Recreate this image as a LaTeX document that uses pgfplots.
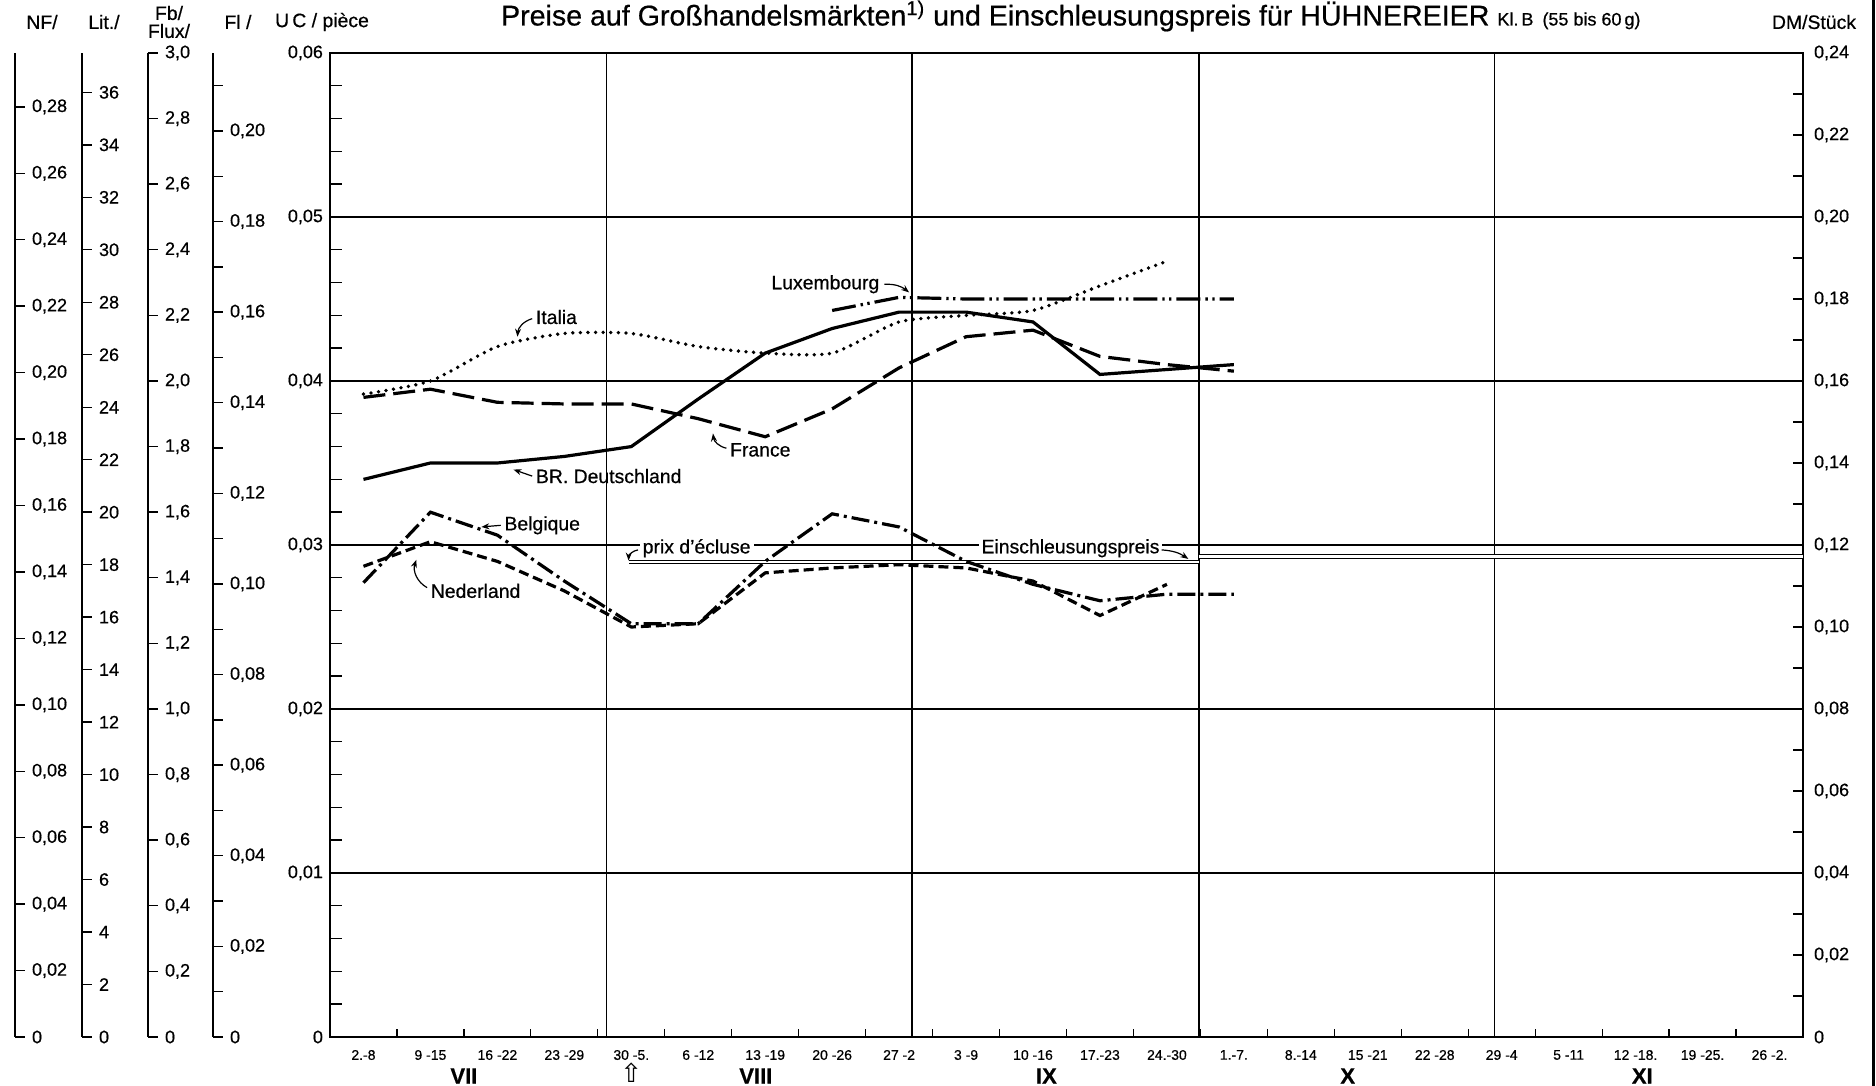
\documentclass[border=0pt]{standalone}
\usepackage{fontspec}
\setmainfont{Liberation Sans}[FakeBold=0.6]
\newfontfamily\djv{DejaVu Sans}
\usepackage{pgfplots}
\pgfplotsset{compat=1.18}
\usetikzlibrary{arrows.meta}

\newcommand{\tl}{\fontsize{9}{10}\selectfont}
\newcommand{\lab}{\fontsize{9.7}{11}\selectfont}

\pgfplotsset{
  every axis/.append style={scaled y ticks=false, scaled x ticks=false},
  aux/.style={scale only axis, width=1pt, height=492pt, anchor=south east,
    xmin=0, xmax=1, ymin=0,
    axis x line=none, axis y line=right,
    y axis line style={-, line width=0.9pt},
    ytick align=outside, major tick length=5pt, minor tick length=5pt,
    tick style={black, line width=0.7pt},
    yticklabel style={font=\tl}},
}

\begin{document}
\begin{tikzpicture}
\path[use as bounding box] (0,0) rectangle (938pt,543pt);

% ---- auxiliary currency axes ----
\begin{axis}[aux, at={(7.5pt,24.5pt)}, ymax=0.29622,
  ytick={0,0.02,0.04,0.06,0.08,0.10,0.12,0.14,0.16,0.18,0.20,0.22,0.24,0.26,0.28},
  yticklabels={0,{0,02},{0,04},{0,06},{0,08},{0,10},{0,12},{0,14},{0,16},{0,18},{0,20},{0,22},{0,24},{0,26},{0,28}}]
\end{axis}
\begin{axis}[aux, at={(41pt,24.5pt)}, ymax=37.5,
  ytick={0,2,4,6,8,10,12,14,16,18,20,22,24,26,28,30,32,34,36},
  yticklabels={0,2,4,6,8,10,12,14,16,18,20,22,24,26,28,30,32,34,36}]
\end{axis}
\begin{axis}[aux, at={(74pt,24.5pt)}, ymax=3.0,
  ytick={0,0.2,0.4,0.6,0.8,1.0,1.2,1.4,1.6,1.8,2.0,2.2,2.4,2.6,2.8,3.0},
  yticklabels={0,{0,2},{0,4},{0,6},{0,8},{1,0},{1,2},{1,4},{1,6},{1,8},{2,0},{2,2},{2,4},{2,6},{2,8},{3,0}}]
\end{axis}
\begin{axis}[aux, at={(106.5pt,24.5pt)}, ymax=0.2172,
  ytick={0,0.02,0.04,0.06,0.08,0.10,0.12,0.14,0.16,0.18,0.20},
  yticklabels={0,{0,02},{0,04},{0,06},{0,08},{0,10},{0,12},{0,14},{0,16},{0,18},{0,20}},
  minor ytick={0.01,0.03,0.05,0.07,0.09,0.11,0.13,0.15,0.17,0.19,0.21}]
\end{axis}

% ---- right DM axis ----
\begin{axis}[scale only axis, width=736.5pt, height=492pt, at={(165pt,24.5pt)}, anchor=south west,
  xmin=-0.5, xmax=21.5, ymin=0, ymax=0.24,
  axis x line=none, axis y line*=right, y axis line style={-, line width=0.9pt},
  ytick={0,0.02,0.04,0.06,0.08,0.10,0.12,0.14,0.16,0.18,0.20,0.22,0.24},
  yticklabels={0,{0,02},{0,04},{0,06},{0,08},{0,10},{0,12},{0,14},{0,16},{0,18},{0,20},{0,22},{0,24}},
  minor y tick num=1, tick align=inside, major tick length=5pt, minor tick length=5pt,
  tick style={black, line width=0.7pt},
  yticklabel style={font=\tl, xshift=2pt}]
\end{axis}

% ---- main axis ----
\begin{axis}[scale only axis, width=736.5pt, height=492pt, at={(165pt,24.5pt)}, anchor=south west,
  xmin=-0.5, xmax=21.5, ymin=0, ymax=0.06, clip=false,
  axis line style={line width=0.9pt},
  ytick={0,0.01,0.02,0.03,0.04,0.05,0.06},
  yticklabels={0,{0,01},{0,02},{0,03},{0,04},{0,05},{0,06}},
  minor y tick num=4, ytick pos=left, tick align=inside,
  major tick length=6pt, minor tick length=6pt,
  tick style={black, line width=0.7pt},
  ymajorgrids, major grid style={black, line width=0.6pt},
  yticklabel style={font=\tl},
  xtick={0,...,21}, xtick style={draw=none},
  xticklabels={2.-8, 9 -15, 16 -22, 23 -29, 30 -5., 6 -12, 13 -19, 20 -26, 27 -2, 3 -9, 10 -16, 17.-23, 24.-30, 1.-7., 8.-14, 15 -21, 22 -28, 29 -4, 5 -11, 12 -18., 19 -25., 26 -2.},
  xticklabel style={font=\fontsize{7}{8}\selectfont, yshift=-3pt}]

% small week ticks
\addplot[ycomb, black, line width=0.6pt] coordinates {
(-0.5,0.0005)(0.5,0.0005)(1.5,0.0005)(2.5,0.0005)(3.5,0.0005)(4.5,0.0005)(5.5,0.0005)(6.5,0.0005)(7.5,0.0005)(8.5,0.0005)(9.5,0.0005)(10.5,0.0005)(11.5,0.0005)(12.5,0.0005)(13.5,0.0005)(14.5,0.0005)(15.5,0.0005)(16.5,0.0005)(17.5,0.0005)(18.5,0.0005)(19.5,0.0005)(20.5,0.0005)};

% month separators
\draw[black, line width=0.7pt] (axis cs:3.63,0) -- (axis cs:3.63,0.06);
\draw[black, line width=0.7pt] (axis cs:8.19,0) -- (axis cs:8.19,0.06);
\draw[black, line width=0.7pt] (axis cs:12.48,0) -- (axis cs:12.48,0.06);
\draw[black, line width=0.7pt] (axis cs:16.89,0) -- (axis cs:16.89,0.06);

% sluice-gate price (double line)
\addplot[black, line width=0.45pt, double, double distance=1.2pt] coordinates {(3.97,0.02895)(12.48,0.02895)};
\addplot[black, line width=0.45pt, double, double distance=1.2pt] coordinates {(12.48,0.0293)(21.5,0.0293)};

% BR Deutschland
\addplot[black, line width=1.6pt] coordinates {
(0,0.0340)(1,0.0350)(2,0.0350)(3,0.0354)(4,0.0360)(5,0.0389)(6,0.0417)(7,0.0432)(8,0.0442)(9,0.0442)(10,0.0436)(11,0.0404)(12,0.0407)(13,0.0410)};
% France
\addplot[black, line width=1.6pt, dash pattern=on 11pt off 4pt] coordinates {
(0,0.0390)(1,0.0395)(2,0.0387)(3,0.0386)(4,0.0386)(5,0.0377)(6,0.0366)(7,0.0383)(8,0.0408)(9,0.0427)(10,0.0431)(11,0.0415)(12,0.0410)(13,0.0406)};
% Italia
\addplot[black, line width=1.9pt, line cap=round, dash pattern=on 0pt off 3.8pt, smooth, tension=0.4] coordinates {
(0,0.0392)(1,0.0400)(2,0.0421)(3,0.0429)(4,0.0429)(5,0.0421)(6,0.0417)(7,0.0417)(8,0.0436)(9,0.0440)(10,0.0443)(11,0.0458)(12,0.0473)};
% Luxembourg
\addplot[black, line width=1.6pt, dash pattern=on 12pt off 2.5pt on 1.2pt off 2.2pt on 1.2pt off 2.5pt] coordinates {
(7,0.0443)(8,0.0451)(9,0.0450)(10,0.0450)(11,0.0450)(12,0.0450)(13,0.0450)};
% Belgique
\addplot[black, line width=1.6pt, dash pattern=on 9pt off 2.5pt on 1.5pt off 2.5pt] coordinates {
(0,0.0277)(1,0.0320)(2,0.0306)(3,0.0278)(4,0.0252)(5,0.0252)(6,0.0290)(7,0.0319)(8,0.0311)(9,0.0290)(10,0.0276)(11,0.0266)(12,0.0270)(13,0.0270)};
% Nederland
\addplot[black, line width=1.6pt, dash pattern=on 5pt off 2.5pt] coordinates {
(0,0.0287)(1,0.0302)(2,0.0290)(3,0.0272)(4,0.0250)(5,0.0252)(6,0.0283)(7,0.0286)(8,0.0288)(9,0.0286)(10,0.0278)(11,0.0257)(12,0.0276)};

% labels
\node[anchor=west, font=\lab, inner sep=1pt] at (axis cs:2.54,0.0439) {Italia};
\draw[-{Stealth[length=4pt,width=3pt]}, line width=0.6pt] (axis cs:2.52,0.0438) to[bend right=35] (axis cs:2.30,0.0427);
\node[anchor=east, font=\lab, inner sep=1pt] at (axis cs:7.74,0.0459) {Luxembourg};
\draw[-{Stealth[length=4pt,width=3pt]}, line width=0.6pt] (axis cs:7.78,0.0459) to[bend left=20] (axis cs:8.15,0.0454);
\node[anchor=west, font=\lab, inner sep=1pt] at (axis cs:5.44,0.0358) {France};
\draw[-{Stealth[length=4pt,width=3pt]}, line width=0.6pt] (axis cs:5.42,0.0359) to[bend left=35] (axis cs:5.22,0.0368);
\node[anchor=west, font=\lab, inner sep=1pt] at (axis cs:2.54,0.0342) {BR. Deutschland};
\draw[-{Stealth[length=4pt,width=3pt]}, line width=0.6pt] (axis cs:2.52,0.0342) -- (axis cs:2.24,0.0346);
\node[anchor=west, font=\lab, inner sep=1pt] at (axis cs:2.07,0.0312) {Belgique};
\draw[-{Stealth[length=4pt,width=3pt]}, line width=0.6pt] (axis cs:2.05,0.0312) -- (axis cs:1.76,0.0311);
\node[anchor=west, font=\lab, inner sep=1pt] at (axis cs:0.97,0.0272) {Nederland};
\draw[-{Stealth[length=4pt,width=3pt]}, line width=0.6pt] (axis cs:0.95,0.0274) to[bend left=40] (axis cs:0.79,0.0291);
\node[anchor=west, font=\lab, inner sep=1.5pt, fill=white] at (axis cs:4.12,0.0298) {prix d'écluse};
\draw[-{Stealth[length=4pt,width=3pt]}, line width=0.6pt] (axis cs:4.10,0.0297) to[bend right=40] (axis cs:3.96,0.02905);
\node[font=\lab, inner sep=1.5pt, fill=white] at (axis cs:10.56,0.0298) {Einschleusungspreis};
\draw[-{Stealth[length=4pt,width=3pt]}, line width=0.6pt] (axis cs:11.92,0.0297) to[bend left=15] (axis cs:12.32,0.02915);

% month labels
\node[font=\fontsize{11}{12}\selectfont\bfseries] at (axis cs:1.5,0) [yshift=-19.5pt] {VII};
\node[font=\fontsize{11}{12}\selectfont\bfseries] at (axis cs:5.86,0) [yshift=-19.5pt] {VIII};
\node[font=\fontsize{11}{12}\selectfont\bfseries] at (axis cs:10.2,0) [yshift=-19.5pt] {IX};
\node[font=\fontsize{11}{12}\selectfont\bfseries] at (axis cs:14.7,0) [yshift=-19.5pt] {X};
\node[font=\fontsize{11}{12}\selectfont\bfseries] at (axis cs:19.1,0) [yshift=-19.5pt] {XI};
\node[font=\djv\fontsize{13}{14}\selectfont, inner sep=0pt] at (axis cs:4.0,0) [yshift=-18pt] {⇧};
\end{axis}

% header texts
\node[font=\lab] at (21pt,532pt) {NF/};
\node[font=\lab] at (52pt,532pt) {Lit./};
\node[font=\lab, align=center, inner sep=0pt] at (84.5pt,532pt) {Fb/\\[-2pt]Flux/};
\node[font=\lab] at (119pt,532pt) {Fl /};
\node[font=\lab] at (161pt,532pt) {U\,C / pièce};
\node[font=\lab] at (907pt,532pt) {DM/Stück};
\node[anchor=west, font=\fontsize{14.3}{16}\selectfont] at (247pt,535pt)
  {Preise auf Großhandelsmärkten\textsuperscript{1)} und Einschleusungspreis für HÜHNEREIER \fontsize{9}{10}\selectfont Kl.\,B\enspace(55 bis 60\,g)};

% scan border at right
\draw[line width=1.6pt] (936.7pt,0) -- (936.7pt,543pt);
\end{tikzpicture}
\end{document}
